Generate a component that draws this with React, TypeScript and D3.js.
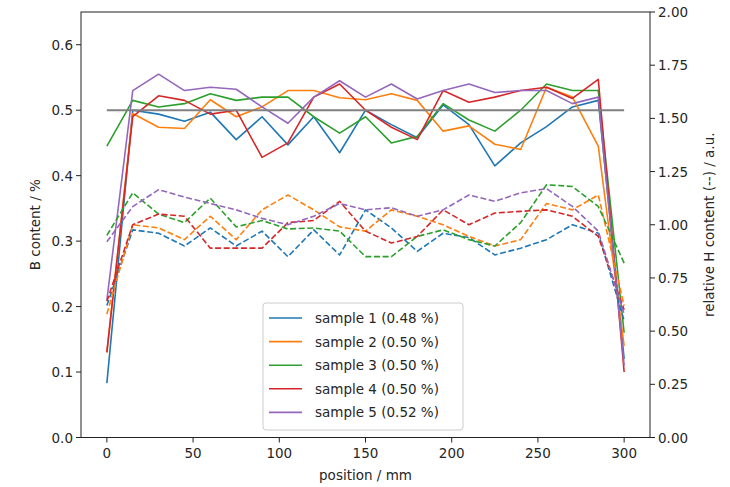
import React from "react";
import * as d3 from "d3";

const positions = [0, 15, 30, 45, 60, 75, 90, 105, 120, 135, 150, 165, 180, 195, 210, 225, 240, 255, 270, 285, 300];

const sampleNames = ["sample 1 (0.48 %)", "sample 2 (0.50 %)", "sample 3 (0.50 %)", "sample 4 (0.50 %)", "sample 5 (0.52 %)"];
const colors = ["#1f77b4", "#ff7f0e", "#2ca02c", "#d62728", "#9467bd"];

const bContent1 = [0.083, 0.5, 0.494, 0.483, 0.497, 0.455, 0.49, 0.447, 0.49, 0.435, 0.5, 0.478, 0.458, 0.508, 0.478, 0.415, 0.45, 0.475, 0.505, 0.515, 0.12];
const bContent2 = [0.13, 0.495, 0.474, 0.472, 0.516, 0.49, 0.505, 0.53, 0.53, 0.519, 0.516, 0.525, 0.515, 0.468, 0.476, 0.448, 0.44, 0.535, 0.52, 0.445, 0.14];
const bContent3 = [0.445, 0.515, 0.505, 0.51, 0.525, 0.515, 0.52, 0.52, 0.49, 0.465, 0.49, 0.45, 0.46, 0.51, 0.485, 0.468, 0.5, 0.54, 0.53, 0.53, 0.16];
const bContent4 = [0.13, 0.49, 0.522, 0.515, 0.494, 0.5, 0.428, 0.45, 0.52, 0.54, 0.5, 0.474, 0.455, 0.53, 0.512, 0.52, 0.53, 0.535, 0.518, 0.547, 0.1];
const bContent5 = [0.21, 0.53, 0.555, 0.53, 0.535, 0.532, 0.505, 0.48, 0.52, 0.545, 0.52, 0.54, 0.517, 0.53, 0.54, 0.527, 0.53, 0.53, 0.51, 0.52, 0.11];

const hContent1 = [0.62, 0.976, 0.96, 0.9, 0.985, 0.9, 0.97, 0.85, 0.976, 0.858, 1.07, 0.985, 0.875, 0.96, 0.94, 0.858, 0.89, 0.93, 1.0, 0.96, 0.55];
const hContent2 = [0.58, 1.0, 0.985, 0.93, 1.04, 0.93, 1.07, 1.14, 1.07, 0.99, 0.97, 1.07, 1.04, 1.0, 0.945, 0.9, 0.93, 1.1, 1.07, 1.14, 0.62];
const hContent3 = [0.95, 1.15, 1.05, 1.01, 1.125, 0.99, 1.02, 0.98, 0.985, 0.97, 0.85, 0.85, 0.945, 0.976, 0.93, 0.9, 1.01, 1.188, 1.18, 1.086, 0.82];
const hContent4 = [0.64, 1.0, 1.05, 1.04, 0.89, 0.89, 0.89, 1.01, 1.02, 1.11, 0.97, 0.914, 0.945, 1.07, 1.0, 1.055, 1.063, 1.07, 1.04, 0.945, 0.6];
const hContent5 = [0.92, 1.085, 1.165, 1.13, 1.1, 1.07, 1.03, 1.0, 1.04, 1.1, 1.07, 1.08, 1.04, 1.07, 1.14, 1.11, 1.15, 1.17, 1.086, 0.97, 0.58];

const nominalB = 0.5;

const xTicks = [0, 50, 100, 150, 200, 250, 300];
const leftTicks = [0.0, 0.1, 0.2, 0.3, 0.4, 0.5, 0.6];
const rightTicks = [0.0, 0.25, 0.5, 0.75, 1.0, 1.25, 1.5, 1.75, 2.0];

const bSeries = [bContent1, bContent2, bContent3, bContent4, bContent5];
const hSeries = [hContent1, hContent2, hContent3, hContent4, hContent5];

export default function App() {
  const W = 730, H = 487;
  const left = 81, right = 650, top = 12, bottom = 437.5;
  const x = d3.scaleLinear().domain([-15, 315]).range([left, right]);
  const yL = d3.scaleLinear().domain([0, 0.65]).range([bottom, top]);
  const yR = d3.scaleLinear().domain([0, 2.0]).range([bottom, top]);
  const font = "DejaVu Sans, sans-serif";
  const fs = 13.5;
  const txt = "#262626";

  const lineL = (vals: number[]) =>
    d3.line<number>().x((_, i) => x(positions[i])).y((v) => yL(v))(vals) || "";
  const lineR = (vals: number[]) =>
    d3.line<number>().x((_, i) => x(positions[i])).y((v) => yR(v))(vals) || "";

  const legX = 263, legY = 303, legW = 200, legH = 127;
  const rowH = 23.6;

  return (
    <svg width={W} height={H} style={{ position: "absolute", left: 0, top: 0, background: "#fff" }} fontFamily={font}>
      <rect x={0} y={0} width={W} height={H} fill="#fff" />
      <defs>
        <clipPath id="plotclip">
          <rect x={left} y={top} width={right - left} height={bottom - top} />
        </clipPath>
      </defs>
      <g clipPath="url(#plotclip)">
        {bSeries.map((s, i) => (
          <path key={"b" + i} d={lineL(s)} fill="none" stroke={colors[i]} strokeWidth={1.6} strokeLinejoin="round" />
        ))}
        <line x1={x(positions[0])} x2={x(positions[positions.length - 1])} y1={yL(nominalB)} y2={yL(nominalB)} stroke="#808080" strokeWidth={2} />
        {hSeries.map((s, i) => (
          <path key={"h" + i} d={lineR(s)} fill="none" stroke={colors[i]} strokeWidth={1.6} strokeDasharray="6,2.6" strokeLinejoin="round" />
        ))}
      </g>
      {/* spines */}
      <rect x={left} y={top} width={right - left} height={bottom - top} fill="none" stroke="#222" strokeWidth={1} />
      {/* x ticks */}
      {xTicks.map((t) => (
        <g key={"x" + t}>
          <line x1={x(t)} x2={x(t)} y1={bottom} y2={bottom + 5} stroke="#222" />
          <text x={x(t)} y={bottom + 20} fontSize={fs} textAnchor="middle" fill={txt}>{t}</text>
        </g>
      ))}
      {leftTicks.map((t) => (
        <g key={"l" + t}>
          <line x1={left - 5} x2={left} y1={yL(t)} y2={yL(t)} stroke="#222" />
          <text x={left - 8} y={yL(t) + 5} fontSize={fs} textAnchor="end" fill={txt}>{t.toFixed(1)}</text>
        </g>
      ))}
      {rightTicks.map((t) => (
        <g key={"r" + t}>
          <line x1={right} x2={right + 5} y1={yR(t)} y2={yR(t)} stroke="#222" />
          <text x={right + 8} y={yR(t) + 5} fontSize={fs} textAnchor="start" fill={txt}>{t.toFixed(2)}</text>
        </g>
      ))}
      <text x={(left + right) / 2} y={480} fontSize={fs} textAnchor="middle" fill={txt}>position / mm</text>
      <text transform={`translate(40, ${(top + bottom) / 2}) rotate(-90)`} fontSize={fs} textAnchor="middle" fill={txt}>B content / %</text>
      <text transform={`translate(714, ${(top + bottom) / 2}) rotate(-90)`} fontSize={fs} textAnchor="middle" fill={txt}>relative H content (--) / a.u.</text>
      {/* legend */}
      <rect x={legX} y={legY} width={legW} height={legH} rx={3} fill="#fff" fillOpacity={0.8} stroke="#ccc" />
      {sampleNames.map((n, i) => (
        <g key={"lg" + i}>
          <line x1={legX + 6} x2={legX + 39} y1={legY + 15 + i * rowH} y2={legY + 15 + i * rowH} stroke={colors[i]} strokeWidth={1.6} />
          <text x={legX + 52} y={legY + 20 + i * rowH} fontSize={fs} fill={txt}>{n}</text>
        </g>
      ))}
    </svg>
  );
}
